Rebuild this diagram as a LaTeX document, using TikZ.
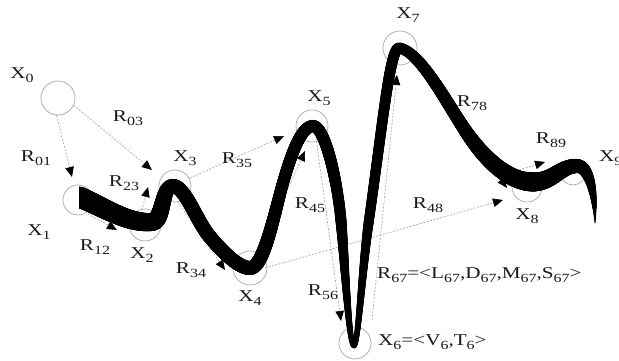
\documentclass[tikz,border=0pt]{standalone}
\usepackage{fontspec}
\setmainfont{Liberation Serif}[FakeStretch=1.28]
\usetikzlibrary{arrows.meta,decorations.markings}
\newcommand\lsub[1]{\raisebox{-0.45ex}{\fontsize{12.5}{13}\selectfont #1}}
\tikzset{
  vcirc/.style={circle, draw=gray!70, line width=0.7pt, inner sep=0pt},
  conn/.style={draw=gray!70, line width=0.65pt, dash pattern=on 2pt off 1.5pt,
    -{Triangle[length=10pt,width=8.5pt,black]}},
  lbl/.style={inner sep=0pt, text=black!90},
  brush/.style 2 args={decoration={markings,
    mark=between positions 0 and 1 step 0.5pt with {%
      \pgfmathsetmacro\bw{0.5*(#1+(#2-#1)*(\pgfkeysvalueof{/pgf/decoration/mark info/distance from start})/(\pgfdecoratedpathlength))}%
      \fill[black] (0,0) circle[radius=\bw pt];}}, decorate}
}
\begin{document}
\begin{tikzpicture}[x=1pt,y=1pt,font=\fontsize{16.5}{18}\selectfont]
\useasboundingbox (0,0) rectangle (619,361);
% node circles
\node[vcirc, minimum size=34pt] (c0) at (58,263) {};
\node[vcirc, minimum size=30pt] (c1) at (78,161) {};
\node[vcirc, minimum size=32pt] (c2) at (145,136) {};
\node[vcirc, minimum size=32pt] (c3) at (175,175) {};
\node[vcirc, minimum size=34pt] (c4) at (250,93) {};
\node[vcirc, minimum size=32pt] (c5) at (312,235) {};
\node[vcirc, minimum size=32pt] (c6) at (355,18) {};
\node[vcirc, minimum size=34pt] (c7) at (400,313) {};
\node[vcirc, minimum size=30pt] (c8) at (527,174) {};
\node[vcirc, minimum size=26pt] (c9) at (573,189) {};
% curve points
\coordinate (p1) at (79,164);
\coordinate (p2) at (152,139);
\coordinate (p3) at (173,175);
\coordinate (p4) at (210,124);
\coordinate (p5) at (250,93);
\coordinate (p6) at (281,171);
\coordinate (p7) at (313,235);
\coordinate (p8) at (341,140);
\coordinate (p9) at (354,15);
\coordinate (p10) at (369,141);
\coordinate (p11) at (399,313);
\coordinate (p12) at (463,234);
\coordinate (p13) at (533,179);
\coordinate (p14) at (577,195);
\coordinate (p15) at (595,138);
% connector ends
\coordinate (t01) at (72,184);
\coordinate (t03) at (152,191);
\coordinate (s12) at (88,147);   \coordinate (t12) at (117,131);
\coordinate (s23) at (142,151);  \coordinate (t23) at (148,174);
\coordinate (s35) at (190,183);  \coordinate (t35) at (284,225);
\coordinate (s34) at (178,159);  \coordinate (t34) at (225,91);
\coordinate (s45) at (258,106);  \coordinate (t45) at (305,210);
\coordinate (s56) at (316,223);  \coordinate (t56) at (341,40);
\coordinate (s67) at (372,41);   \coordinate (t67) at (397,286);
\coordinate (s48) at (265,93);   \coordinate (t48) at (503,161);
\coordinate (s78) at (415,299);  \coordinate (t78) at (507,173);
\coordinate (s89) at (512,189);  \coordinate (t89) at (545,199);
% connectors
\draw[conn] (c0.265) -- (t01);
\draw[conn] (c0.-25) -- (t03);
\draw[conn] (s12) -- (t12);
\draw[conn] (s23) -- (t23);
\draw[conn] (s35) -- (t35);
\draw[conn] (s34) -- (t34);
\draw[conn] (s45) -- (t45);
\draw[conn] (s56) -- (t56);
\draw[conn] (s67) -- (t67);
\draw[conn] (s48) -- (t48);
\draw[conn] (s78) -- (t78);
\draw[conn] (s89) -- (t89);
% thick curve
\begin{scope}
\clip (79,0) rectangle (619,361);
\path[brush={21}{18}] (p1) .. controls (102,155) and (127,137) .. (p2);
\path[brush={18}{14}] (p2) .. controls (164,140) and (161,175) .. (p3);
\path[brush={14}{14}] (p3) .. controls (185,175) and (197,139) .. (p4);
\path[brush={14}{14}] (p4) .. controls (222,110) and (238,93) .. (p5);
\path[brush={14}{12}] (p5) .. controls (262,93) and (271,132) .. (p6);
\path[brush={12}{12}] (p6) .. controls (289,200) and (300,235) .. (p7);
\path[brush={12}{11}] (p7) .. controls (325,235) and (337.5,180) .. (p8);
\path[brush={11}{5}] (p8) .. controls (345,95) and (349,15) .. (p9);
\path[brush={5}{10}] (p9) .. controls (358,15) and (362,92) .. (p10);
\path[brush={10}{11}] (p10) .. controls (383,240) and (390,313) .. (p11);
\path[brush={11}{13}] (p11) .. controls (419,310) and (444,263) .. (p12);
\path[brush={13}{19}] (p12) .. controls (479,209) and (505,179) .. (p13);
\path[brush={19}{14}] (p13) .. controls (553,179) and (560,195) .. (p14);
\path[brush={14}{1}] (p14) .. controls (588,195) and (595,172) .. (p15);
\end{scope}
% labels
\node[lbl] (lx0) at (22,286) {X\lsub{0}};
\node[lbl] (lr01) at (36,203) {R\lsub{01}};
\node[lbl] (lr03) at (128,243) {R\lsub{03}};
\node[lbl] (lx3) at (185,203) {X\lsub{3}};
\node[lbl] (lr23) at (124,178) {R\lsub{23}};
\node[lbl] (lr35) at (237,201) {R\lsub{35}};
\node[lbl] (lx5) at (319,263) {X\lsub{5}};
\node[lbl] (lr45) at (310,156) {R\lsub{45}};
\node[lbl] (lx1) at (39,129) {X\lsub{1}};
\node[lbl] (lr12) at (95,114) {R\lsub{12}};
\node[lbl] (lx2) at (142,106) {X\lsub{2}};
\node[lbl] (lr34) at (191,91) {R\lsub{34}};
\node[lbl] (lx4) at (250,63) {X\lsub{4}};
\node[lbl] (lr56) at (323,69) {R\lsub{56}};
\node[lbl, anchor=west] (lr67) at (377,86) {R\lsub{67}=<L\lsub{67},D\lsub{67},M\lsub{67},S\lsub{67}>};
\node[lbl, anchor=west] (lx6) at (378,19) {X\lsub{6}=<V\lsub{6},T\lsub{6}>};
\node[lbl] (lx7) at (408,346) {X\lsub{7}};
\node[lbl] (lr78) at (472,258) {R\lsub{78}};
\node[lbl] (lr89) at (551,221) {R\lsub{89}};
\node[lbl, anchor=west] (lx9) at (599,203) {X\lsub{9}};
\node[lbl] (lx8) at (527,145) {X\lsub{8}};
\node[lbl] (lr48) at (428,156) {R\lsub{48}};
\end{tikzpicture}
\end{document}
